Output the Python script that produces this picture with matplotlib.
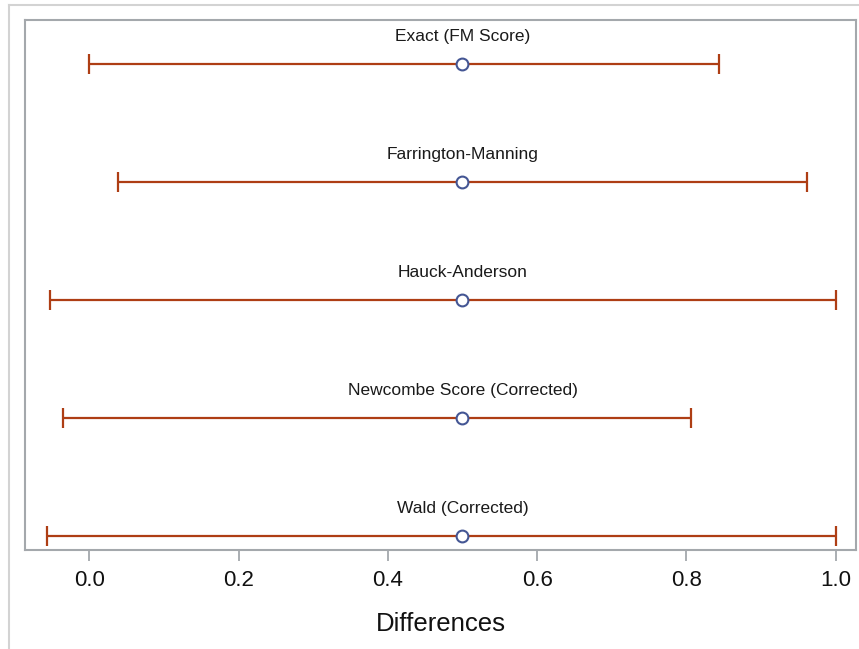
import matplotlib.pyplot as plt
from matplotlib.lines import Line2D

# confidence limits for the proportion difference, by method
methods = ["Exact (FM Score)", "Farrington-Manning", "Hauck-Anderson",
           "Newcombe Score (Corrected)", "Wald (Corrected)"]
estimate = [0.5, 0.5, 0.5, 0.5, 0.5]
lower = [0.0, 0.038, -0.052, -0.035, -0.057]
upper = [0.844, 0.962, 1.0, 0.806, 1.0]

plt.rcParams['font.family'] = ['Liberation Sans', 'DejaVu Sans']

fig = plt.figure(figsize=(8.59, 6.49), dpi=100)
ax = fig.add_axes([0.0291, 0.1525, 0.9674, 0.8167])

err_color = '#AE3E14'
edge = '#A4A8AC'

ypos = list(range(len(methods) - 1, -1, -1))
xerr = [[e - lo for e, lo in zip(estimate, lower)],
        [hi - e for e, hi in zip(estimate, upper)]]

ax.errorbar(estimate, ypos, xerr=xerr, fmt='none', ecolor=err_color,
            elinewidth=1.6, capsize=7, capthick=1.6, zorder=2)
ax.plot(estimate, ypos, 'o', markersize=8.5, markerfacecolor='white',
        markeredgecolor='#445694', markeredgewidth=1.5, zorder=3)

for name, e, y in zip(methods, estimate, ypos):
    ax.annotate(name, (e, y), xytext=(0, 20), textcoords='offset points',
                ha='center', va='center', fontsize=12.5, color='#1a1a1a')

ax.set_xlim(-0.0861, 1.0272)
ax.set_ylim(-0.119, 4.373)
ax.set_yticks([])
ax.set_xticks([0.0, 0.2, 0.4, 0.6, 0.8, 1.0])
ax.set_xticklabels(['0.0', '0.2', '0.4', '0.6', '0.8', '1.0'])
ax.tick_params(axis='x', length=8, width=1.3, color=edge, pad=6.5,
               labelsize=16, labelcolor='#111111')
ax.set_xlabel('Differences', fontsize=18.5, labelpad=15, color='#111111')

for s in ax.spines.values():
    s.set_color(edge)
    s.set_linewidth(1.5)

# outer frame lines (left and top only)
fig.add_artist(Line2D([9 / 859, 9 / 859], [0, 1 - 5 / 649],
                      transform=fig.transFigure, color='#D3D3D3', lw=1.5))
fig.add_artist(Line2D([9 / 859, 858 / 859], [1 - 5 / 649, 1 - 5 / 649],
                      transform=fig.transFigure, color='#D3D3D3', lw=1.5))

fig.savefig('out.png', dpi=100)
